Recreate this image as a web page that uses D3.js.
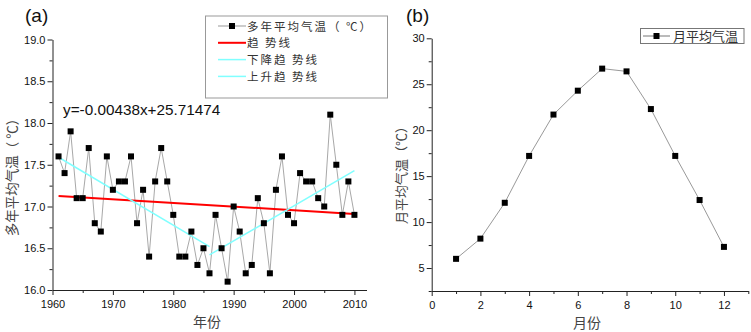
<!DOCTYPE html>
<html>
<head>
<meta charset="utf-8">
<script src="https://cdn.jsdelivr.net/npm/d3@7"></script>
<style>
  body { margin: 0; background: #fff; }
  svg { font-family: "Liberation Sans", Arial, sans-serif; }
  .cjk { font-family: "Noto Sans CJK SC", sans-serif; }
  .axis path, .axis line { stroke: #222; }
  .axis text { font-size: 11px; fill: #111; }
</style>
</head>
<body>
<svg id="chart" width="751" height="332"></svg>
<script>
// yearly mean temperature, 1961-2010
const years = d3.range(1961, 2011);
const yearTemps = [17.6, 17.4, 17.9, 17.1, 17.1, 17.7, 16.8, 16.7, 17.6, 17.2,
  17.3, 17.3, 17.6, 16.8, 17.2, 16.4, 17.3, 17.7, 17.3, 16.9,
  16.4, 16.4, 16.7, 16.3, 16.5, 16.2, 16.9, 16.5, 16.1, 17.0,
  16.7, 16.2, 16.3, 17.1, 16.8, 16.2, 17.2, 17.6, 16.9, 16.8,
  17.4, 17.3, 17.3, 17.1, 17.0, 18.1, 17.5, 16.9, 17.3, 16.9];

// trend lines (endpoints)
const trendSlope = -0.00438, trendIntercept = 25.71474;
const trendYears = [1961, 2010];
const downYears = [1961, 1986], downTemps = [17.59, 16.52];
const upYears = [1986, 2010], upTemps = [16.42, 17.43];

const legendA = ["多年平均气温（ ℃）", "趋 势线", "下降趋 势线", "上升趋 势线"];

// monthly mean temperature
const months = [1, 2, 3, 4, 5, 6, 7, 8, 9, 10, 11, 12];
const monthTemps = [6.0, 8.2, 12.1, 17.2, 21.7, 24.3, 26.7, 26.4, 22.3, 17.2, 12.4, 7.3];

const svg = d3.select("#chart");

// ---------- panel (a) ----------
const xa = d3.scaleLinear().domain([1960, 2012]).range([52.5, 366.5]);
const ya = d3.scaleLinear().domain([16, 19]).range([290, 39.5]);

const ga = svg.append("g");

// minor ticks
ga.append("g").attr("class", "axis")
  .attr("transform", "translate(0,290)")
  .call(d3.axisBottom(xa).tickValues(d3.range(1965, 2011, 10)).tickSize(3).tickFormat(""))
  .call(g => g.select(".domain").remove());
ga.append("g").attr("class", "axis")
  .attr("transform", "translate(52.5,0)")
  .call(d3.axisLeft(ya).tickValues(d3.range(16.25, 19, 0.5)).tickSize(3).tickFormat(""))
  .call(g => g.select(".domain").remove());

ga.append("g").attr("class", "axis")
  .attr("transform", "translate(0,290)")
  .call(d3.axisBottom(xa).tickValues(d3.range(1960, 2011, 10)).tickSize(5).tickSizeOuter(0).tickFormat(d3.format("d")))
  .call(g => g.selectAll("text").attr("dy", "0.9em"));
ga.append("g").attr("class", "axis")
  .attr("transform", "translate(52.5,0)")
  .call(d3.axisLeft(ya).tickValues(d3.range(16, 19.01, 0.5)).tickSize(5).tickSizeOuter(0).tickFormat(d3.format(".1f")))
  .call(g => g.selectAll("text").attr("x", -7));

const lineA = d3.line().x((d, i) => xa(years[i])).y(d => ya(d));
ga.append("path").datum(yearTemps)
  .attr("d", lineA).attr("fill", "none").attr("stroke", "#a8a8a8").attr("stroke-width", 1);

ga.append("path")
  .datum(trendYears)
  .attr("d", d3.line().x(d => xa(d)).y(d => ya(trendSlope * d + trendIntercept)))
  .attr("stroke", "#ff0000").attr("stroke-width", 2).attr("fill", "none");

const lineSeg = d3.line().x(d => xa(d[0])).y(d => ya(d[1]));
ga.append("path").datum(d3.zip(downYears, downTemps))
  .attr("d", lineSeg).attr("stroke", "#80ffff").attr("stroke-width", 1.5).attr("fill", "none");
ga.append("path").datum(d3.zip(upYears, upTemps))
  .attr("d", lineSeg).attr("stroke", "#80ffff").attr("stroke-width", 1.5).attr("fill", "none");

ga.selectAll("rect.pt").data(yearTemps).enter().append("rect")
  .attr("class", "pt")
  .attr("x", (d, i) => xa(years[i]) - 3).attr("y", d => ya(d) - 3)
  .attr("width", 6).attr("height", 6).attr("fill", "#000");

ga.append("text").attr("x", 63).attr("y", 115).attr("font-size", 15.3).attr("fill", "#111")
  .text("y=" + trendSlope + "x+" + trendIntercept);

ga.append("text").attr("x", 25).attr("y", 22).attr("font-size", 19).attr("fill", "#111").text("(a)");

ga.append("text").attr("class", "cjk")
  .attr("transform", "translate(17,174) rotate(-90)")
  .attr("text-anchor", "middle").attr("font-size", 13.5).attr("fill", "#444")
  .text("多年平均气温（ ℃）");
ga.append("text").attr("class", "cjk")
  .attr("x", 207).attr("y", 327).attr("text-anchor", "middle")
  .attr("font-size", 14).attr("fill", "#444").text("年份");

// legend (a)
const lg = ga.append("g");
lg.append("rect").attr("x", 205.5).attr("y", 16).attr("width", 182).attr("height", 82)
  .attr("fill", "#fff").attr("stroke", "#999");
const legColors = ["#999", "#ff0000", "#80ffff", "#80ffff"];
const legWidths = [1, 2, 1.5, 1.5];
legendA.forEach((t, i) => {
  const y = 26 + i * 16.8;
  lg.append("line").attr("x1", 218).attr("x2", 246).attr("y1", y).attr("y2", y)
    .attr("stroke", legColors[i]).attr("stroke-width", legWidths[i]);
  if (i === 0) lg.append("rect").attr("x", 229).attr("y", y - 3).attr("width", 6).attr("height", 6).attr("fill", "#000");
  lg.append("text").attr("class", "cjk").attr("x", 247).attr("y", y + 4.5)
    .attr("font-size", 11.5).attr("letter-spacing", 2).attr("fill", "#333").text(t);
});

// ---------- panel (b) ----------
const xb = d3.scaleLinear().domain([0, 13]).range([431.7, 748.3]);
const yb = d3.scaleLinear().domain([2.5, 30]).range([291, 38.3]);
const gb = svg.append("g");

gb.append("g").attr("class", "axis")
  .attr("transform", "translate(0,291)")
  .call(d3.axisBottom(xb).tickValues(d3.range(1, 14, 2)).tickSize(3).tickFormat(""))
  .call(g => g.select(".domain").remove());
gb.append("g").attr("class", "axis")
  .attr("transform", "translate(431.7,0)")
  .call(d3.axisLeft(yb).tickValues(d3.range(2.5, 30, 5)).tickSize(3).tickFormat(""))
  .call(g => g.select(".domain").remove());

gb.append("g").attr("class", "axis")
  .attr("transform", "translate(0,291)")
  .call(d3.axisBottom(xb).tickValues(d3.range(0, 13, 2)).tickSize(5).tickSizeOuter(0))
  .call(g => g.selectAll("text").attr("dy", "0.9em"));
gb.append("g").attr("class", "axis")
  .attr("transform", "translate(431.7,0)")
  .call(d3.axisLeft(yb).tickValues(d3.range(5, 31, 5)).tickSize(5).tickSizeOuter(0))
  .call(g => g.selectAll("text").attr("x", -7));

gb.append("path").datum(monthTemps)
  .attr("d", d3.line().x((d, i) => xb(months[i])).y(d => yb(d)))
  .attr("fill", "none").attr("stroke", "#999").attr("stroke-width", 1);
gb.selectAll("rect.pt").data(monthTemps).enter().append("rect")
  .attr("class", "pt")
  .attr("x", (d, i) => xb(months[i]) - 3).attr("y", d => yb(d) - 3)
  .attr("width", 6).attr("height", 6).attr("fill", "#000");

gb.append("text").attr("x", 406).attr("y", 22).attr("font-size", 19).attr("fill", "#111").text("(b)");
gb.append("text").attr("class", "cjk")
  .attr("transform", "translate(406,172) rotate(-90)")
  .attr("text-anchor", "middle").attr("font-size", 13).attr("fill", "#444")
  .text("月平均气温（℃）");
gb.append("text").attr("class", "cjk")
  .attr("x", 587).attr("y", 328).attr("text-anchor", "middle")
  .attr("font-size", 14).attr("fill", "#444").text("月份");

const lb = gb.append("g");
lb.append("rect").attr("x", 640.5).attr("y", 28.5).attr("width", 103.5).attr("height", 15)
  .attr("fill", "#fff").attr("stroke", "#777");
lb.append("line").attr("x1", 643).attr("x2", 670).attr("y1", 36).attr("y2", 36).attr("stroke", "#777");
lb.append("rect").attr("x", 653.5).attr("y", 33).attr("width", 6).attr("height", 6).attr("fill", "#000");
lb.append("text").attr("class", "cjk").attr("x", 673).attr("y", 41)
  .attr("font-size", 13).attr("fill", "#333").text("月平均气温");
</script>
</body>
</html>
